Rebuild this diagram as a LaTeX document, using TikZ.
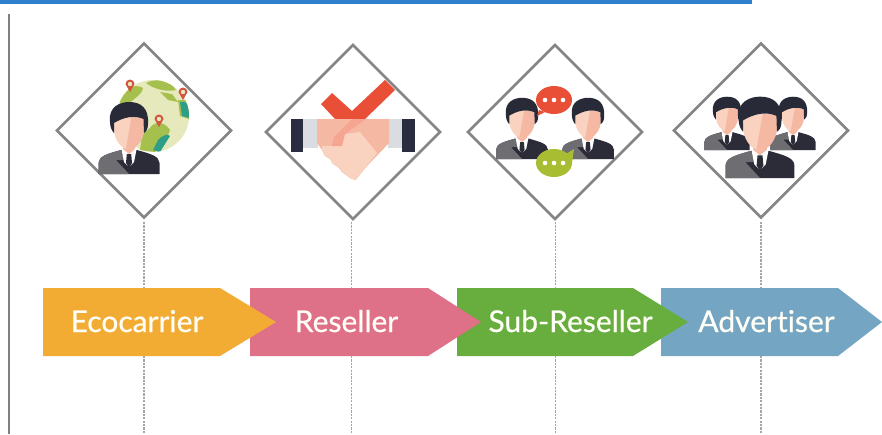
\documentclass[tikz,border=0pt]{standalone}
\usepackage{fontspec}
\setmainfont{Lato}
\newfontfamily\lablefont[FakeBold=0.6,Ligatures=NoCommon]{Lato}
\usetikzlibrary{shapes.geometric}
\definecolor{orangeA}{HTML}{F3AC33}
\definecolor{pinkA}{HTML}{DE7088}
\definecolor{greenA}{HTML}{67AE3F}
\definecolor{blueA}{HTML}{74A5C2}
\definecolor{barblue}{HTML}{2F7FCB}
\definecolor{suitdark}{HTML}{2B2C38}
\definecolor{suitgray}{HTML}{6D6D72}
\definecolor{hairc}{HTML}{282A38}
\definecolor{skinL}{HTML}{F9D2C0}
\definecolor{skinD}{HTML}{F5B8A3}
\definecolor{globeC}{HTML}{E6E9BC}
\definecolor{landC}{HTML}{A5C04C}
\definecolor{tealC}{HTML}{2F9E88}
\definecolor{pinC}{HTML}{D2553F}
\definecolor{redC}{HTML}{E94E37}
\definecolor{oliveC}{HTML}{A9BD32}
\definecolor{cuffC}{HTML}{2A2C40}
\definecolor{sleeveC}{HTML}{DADCE2}
\tikzset{
  x=1pt,y=-1pt,
  gem/.style={diamond,draw=black!48,line width=2.6pt,fill=white,minimum width=175pt,minimum height=175pt,aspect=1,inner sep=0pt},
  guide/.style={draw=black!35,line width=1.1pt,dash pattern=on 2.2pt off 1.2pt},
  lab/.style={text=white!97!yellow,font=\lablefont\fontsize{30}{34}\selectfont,inner sep=0pt,anchor=base},
}
\newcommand{\facepath}{(-14.5,-54) .. controls (-5,-57) and (5,-58) .. (14.5,-55) -- (15,-45) .. controls (15,-35) and (8,-25) .. (0,-24) .. controls (-8,-25) and (-15,-35) .. (-15,-45) -- cycle}
\newcommand{\personicon}[3]{%
\begin{scope}[shift={(#1,#2)},scale=#3]
  \fill[suitdark] (-30.5,0) -- (-30.5,-11) .. controls (-30,-18) and (-22,-20) .. (-8,-24) -- (8,-24) .. controls (22,-20) and (30,-18) .. (30.5,-11) -- (30.5,0) -- cycle;
  \fill[suitgray] (-30.5,0) -- (-30.5,-11) .. controls (-30,-18) and (-22,-20) .. (-8,-24) -- (-4,-14) -- (-13,-14) -- (0,0) -- cycle;
  \fill[white] (-8,-27) -- (8,-27) -- (5,-12) -- (0,-7) -- (-5,-12) -- cycle;
  \fill[skinD] (-6,-32) -- (6,-32) -- (6,-25) -- (0,-20) -- (-6,-25) -- cycle;
  \fill[suitdark] (-2.2,-20) -- (2.2,-20) -- (3,-11) -- (0,-6) -- (-3,-11) -- cycle;
  \fill[skinL] \facepath;
  \begin{scope}
    \clip \facepath;
    \fill[skinD] (3,-60) -- (20,-60) -- (20,-20) -- (-4,-20) -- cycle;
  \end{scope}
  \fill[hairc] (-19,-52) .. controls (-21,-68) and (-8,-72) .. (0,-72) .. controls (12,-72) and (20,-66) .. (19,-50) .. controls (19,-45) and (17,-42) .. (15,-41) -- (14.5,-55) .. controls (5,-59) and (-5,-57) .. (-15,-51) -- (-15,-41) .. controls (-17,-43) and (-19,-47) .. cycle;
\end{scope}}
\newcommand{\pinicon}[2]{%
  \fill[pinC] (#1,#2) -- ({#1-4.5},{#2-8}) arc[start angle=180,end angle=0,x radius=4.5pt,y radius=4.5pt] -- cycle;
  \fill[globeC] ({#1},{#2-8}) circle[radius=2.2pt];}
\newcommand{\dotsicon}[2]{%
  \fill[white] ({#1-9},#2) circle[radius=2.3pt];
  \fill[white] (#1,#2) circle[radius=2.3pt];
  \fill[white] ({#1+9},#2) circle[radius=2.3pt];}
\begin{document}
\begin{tikzpicture}
\useasboundingbox (0,0) rectangle (882,434);
\fill[white] (0,0) rectangle (882,434);
\fill[barblue] (0,0) rectangle (752,3.5);
\fill[black!50] (8.3,14) rectangle (9.7,434);

% diamonds
\node[gem] (d1) at (144,130.5) {};
\node[gem] (d2) at (353,132) {};
\node[gem] (d3) at (555,132) {};
\node[gem] (d4) at (761,130.5) {};

% ribbon arrows, last one first so each tip lies on the next
\fill[blueA] (661,288) -- (838,288) -- (882,322) -- (838,356) -- (661,356) -- cycle;
\fill[greenA] (457,288) -- (633,288) -- (688,322) -- (633,356) -- (457,356) -- cycle;
\fill[pinkA] (250,288) -- (428,288) -- (481,322) -- (428,356) -- (250,356) -- cycle;
\fill[orangeA] (43,288) -- (220,288) -- (276,322) -- (220,356) -- (43,356) -- cycle;

\node[lab] (a1) at (137,332) {Ecocarrier};
\node[lab] (a2) at (346.5,332) {Reseller};
\node[lab] (a3) at (570.5,332) {Sub-Reseller};
\node[lab] (a4) at (766.5,332) {Advertiser};

% guide ends
\coordinate (t1) at (144,288); \coordinate (b1) at (144,356); \coordinate (e1) at (144,434);
\coordinate (t2) at (351.5,288); \coordinate (b2) at (351.5,356); \coordinate (e2) at (351.5,434);
\coordinate (t3) at (555.5,288); \coordinate (b3) at (555.5,356); \coordinate (e3) at (555.5,434);
\coordinate (t4) at (761,288); \coordinate (b4) at (761,356); \coordinate (e4) at (761,434);
\coordinate (s1) at (144,222); \coordinate (s2) at (351.5,222); \coordinate (s3) at (555.5,222); \coordinate (s4) at (761,222);
\draw[guide] (s1) -- (t1); \draw[guide] (b1) -- (e1);
\draw[guide] (s2) -- (t2); \draw[guide] (b2) -- (e2);
\draw[guide] (s3) -- (t3); \draw[guide] (b3) -- (e3);
\draw[guide] (s4) -- (t4); \draw[guide] (b4) -- (e4);

% icon 1: globe and person
\fill[globeC] (153,116) circle[radius=36pt];
\begin{scope}
  \clip (153,116) circle[radius=36pt];
  \fill[landC] (117,100) .. controls (122,88) and (135,83) .. (143,88) .. controls (142,96) and (130,100) .. (125,108) -- cycle;
  \fill[landC] (146,83) .. controls (155,78) and (170,80) .. (176,90) .. controls (168,92) and (155,90) .. (146,83) -- cycle;
  \fill[landC] (160,92) -- (172,94) -- (178,102) -- (168,100) -- cycle;
  \fill[landC] (150,128) .. controls (155,120) and (165,122) .. (170,130) .. controls (168,138) and (160,146) .. (155,152) -- (140,150) -- (142,135) -- cycle;
  \fill[tealC] (158,140) .. controls (164,134) and (168,134) .. (170,136) -- (160,152) -- (153,150) -- cycle;
  \fill[landC] (178,100) -- (192,100) -- (192,120) -- (180,116) -- cycle;
  \fill[tealC] (180,102) .. controls (186,100) and (190,104) .. (190,118) -- (182,116) -- cycle;
\end{scope}
\pinicon{130}{92}
\pinicon{183}{100}
\pinicon{159}{127}
\personicon{129}{174}{1}

% icon 2: handshake and tick
\fill[redC] (321,104) -- (332,93) -- (352,111) -- (385,80) -- (395,90) -- (365,119) -- (335,119) -- cycle;
\fill[sleeveC] (303,119) rectangle (318,148);
\fill[sleeveC] (388,119) rectangle (402,148);
\fill[cuffC] (291,119) rectangle (303,152);
\fill[cuffC] (402,119) rectangle (415,152);
\fill[skinD] (317,119) -- (389,119) -- (389,143) -- (368,165) -- (355,180) -- (350,178) -- (346,175) -- (342,172) -- (338,167) -- (333,164) -- (330,159) -- (325,156) -- (322,150) -- (317,143) -- cycle;
\fill[skinL] (345,134) -- (360,132) -- (377,153) -- (365,168) -- (356,180) -- (350,178) -- (346,175) -- (342,172) -- (338,167) -- (333,164) -- (330,159) -- (325,156) -- (322,150) -- (322,146) -- (333,146) -- cycle;
\fill[skinD!90!red] (334,137) -- (352,119) -- (366,119) -- (345,134) -- (342,146) -- (332,146) -- cycle;

% icon 3: two people talking
\personicon{522}{159}{.85}
\personicon{588}{159}{.85}
\fill[redC] (539,110) -- (537,116) -- (545,112) -- cycle;
\fill[redC] (554,100) ellipse[x radius=18pt,y radius=14pt];
\dotsicon{554}{100}
\fill[oliveC] (566,154) -- (574,149) -- (572,163) -- cycle;
\fill[oliveC] (554,163) ellipse[x radius=18pt,y radius=14pt];
\dotsicon{554}{163}

% icon 4: group of people
\personicon{727}{150}{.74}
\personicon{793}{150}{.74}
\personicon{760}{178}{1.13}
\end{tikzpicture}
\end{document}
